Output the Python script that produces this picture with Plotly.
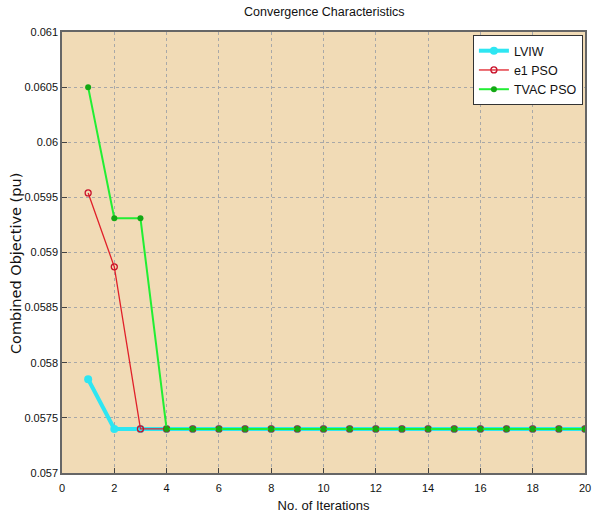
import plotly.graph_objects as go

iterations = list(range(1, 21))
lviw = [0.05785] + [0.0574] * 19
e1_pso = [0.05954, 0.05887] + [0.0574] * 18
tvac_pso = [0.0605, 0.05931, 0.05931] + [0.0574] * 17

y_ticks = [0.057, 0.0575, 0.058, 0.0585, 0.059, 0.0595, 0.06, 0.0605, 0.061]
y_tick_text = ["0.057", "0.0575", "0.058", "0.0585", "0.059", "0.0595", "0.06", "0.0605", "0.061"]
x_ticks = list(range(0, 21, 2))

FONT = "Liberation Sans"

fig = go.Figure()
fig.add_trace(go.Scatter(x=iterations, y=lviw, name="LVIW", mode="lines+markers",
                         line=dict(color="#2EE6F2", width=4),
                         marker=dict(symbol="circle", size=8, color="#2EE6F2")))
fig.add_trace(go.Scatter(x=iterations, y=e1_pso, name="e1 PSO", mode="lines+markers",
                         line=dict(color="#E0202A", width=1.3),
                         marker=dict(symbol="circle-open", size=6, color="#C8102A", line=dict(width=1.3))))
fig.add_trace(go.Scatter(x=iterations, y=tvac_pso, name="TVAC PSO", mode="lines+markers",
                         line=dict(color="#22EE33", width=2),
                         marker=dict(symbol="circle", size=6, color="#14A814")))

axis_common = dict(showline=True, linecolor="#666666", linewidth=1.5, mirror=True,
                   ticks="inside", ticklen=5, tickcolor="#444444",
                   showgrid=True, gridcolor="#a8a8a8", griddash="dot", gridwidth=1,
                   zeroline=False, automargin=False,
                   tickfont=dict(family=FONT, size=11, color="#111111"))

fig.update_xaxes(range=[0, 20], tickvals=x_ticks, ticklabelstandoff=4,
                 title=dict(text="No. of Iterations", font=dict(family=FONT, size=13, color="#111111"), standoff=8),
                 **axis_common)
fig.update_yaxes(range=[0.057, 0.061], tickvals=y_ticks, ticktext=y_tick_text,
                 **axis_common)

fig.add_annotation(text="Combined Objective (pu)", xref="paper", yref="paper",
                   x=-0.088, y=0.476, xanchor="center", yanchor="middle",
                   textangle=-90, showarrow=False,
                   font=dict(family="DejaVu Sans", size=14.5, color="#111111"))

fig.update_layout(
    width=595, height=516,
    margin=dict(l=62, r=10, t=32, b=43),
    paper_bgcolor="white", plot_bgcolor="#F1DBB6",
    title=dict(text="Convergence Characteristics", x=0.545, xanchor="center", y=0.985, yanchor="top",
               font=dict(family=FONT, size=12.5, color="#111111")),
    legend=dict(x=0.996, y=0.993, xanchor="right", yanchor="top", bgcolor="white",
                bordercolor="#333333", borderwidth=1, tracegroupgap=0, itemwidth=30,
                font=dict(family=FONT, size=12.5, color="#111111")),
    showlegend=True,
)

fig.write_html("out.html", config={"displayModeBar": False},
               post_script="document.body.style.margin='0';document.body.style.overflow='hidden';")
